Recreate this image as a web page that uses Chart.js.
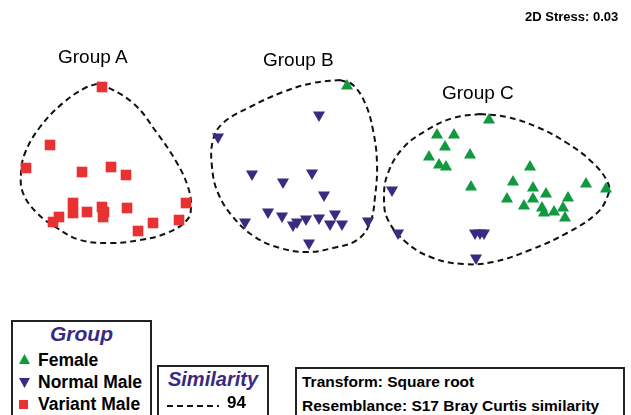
<html>
<head>
<meta charset="UTF-8">
<script src="https://cdn.jsdelivr.net/npm/chart.js"></script>
<style>
  body { margin: 0; background: #fff; font-family: Arial, "Liberation Sans", sans-serif; }
  #wrap { position: relative; width: 631px; height: 415px; overflow: hidden; }
  #plot { position: absolute; left: 0; top: 0; }
  .lbl { position: absolute; white-space: nowrap; color: #000; }
  .box { position: absolute; border: 2px solid #222; background: #fff; }
  .ttl { font-style: italic; font-weight: bold; color: #362a86; text-align: center; }
  .row { position: relative; font-weight: bold; font-size: 17.5px; line-height: 22px; padding-left: 25px; }
  .mk { position: absolute; left: 6px; }
  .tri-up { width: 11px; height: 10px; top: 5px; background: #109a40; clip-path: polygon(50% 0, 100% 100%, 0 100%); }
  .tri-dn { width: 11px; height: 10px; top: 7px; background: #3b2a80; clip-path: polygon(0 0, 100% 0, 50% 100%); }
  .sq { width: 9px; height: 9px; top: 7px; background: #e83232; }
</style>
</head>
<body>
<div id="wrap">
  <canvas id="plot" width="631" height="415"></canvas>

  <div class="lbl" style="left:58px;top:47px;font-size:19px;line-height:19px;">Group A</div>
  <div class="lbl" style="left:263px;top:50px;font-size:19px;line-height:19px;">Group B</div>
  <div class="lbl" style="left:442px;top:83px;font-size:19px;line-height:19px;">Group C</div>
  <div class="lbl" style="left:525px;top:9px;font-size:13px;line-height:15px;font-weight:bold;">2D Stress: 0.03</div>

  <div class="box" style="left:11px;top:320px;width:137px;height:110px;">
    <div class="ttl" style="font-size:21px;line-height:24px;">Group</div>
    <div class="row" style="margin-top:3px;"><span class="mk tri-up"></span>Female</div>
    <div class="row"><span class="mk tri-dn"></span>Normal Male</div>
    <div class="row"><span class="mk sq"></span>Variant Male</div>
  </div>

  <div class="box" style="left:157px;top:365px;width:108px;height:70px;">
    <div class="ttl" style="font-size:20px;line-height:24px;">Similarity</div>
    <svg style="position:absolute;left:8px;top:36px;" width="54" height="6">
      <line x1="0" y1="3" x2="52" y2="3" stroke="#111" stroke-width="2" stroke-dasharray="6 4"/>
    </svg>
    <div class="lbl" style="left:68px;top:25px;font-size:17px;line-height:22px;font-weight:bold;">94</div>
  </div>

  <div class="box" style="left:295px;top:367px;width:326px;height:70px;">
    <div style="font-weight:bold;font-size:15.5px;line-height:24px;padding-left:5px;margin-top:1px;">Transform: Square root<br>Resemblance: S17 Bray Curtis similarity</div>
  </div>
</div>

<script>
// NMDS coordinates
const femaleX = [0.32, 1.74, 1.22, 1.39, 1.30, 1.14, 1.55, 1.24, 1.31, 2.15, 1.98, 1.56, 2.18, 2.71, 2.91, 2.31, 1.92, 2.18, 2.53, 2.09, 2.27, 2.48, 2.29, 2.39, 2.50];
const femaleY = [1.44, 1.10, 0.95, 0.95, 0.83, 0.73, 0.75, 0.65, 0.63, 0.63, 0.48, 0.43, 0.42, 0.46, 0.41, 0.36, 0.31, 0.31, 0.32, 0.24, 0.22, 0.22, 0.17, 0.18, 0.12];

const normalX = [0.04, -0.97, -0.63, -0.32, -0.03, 0.09, -0.47, -0.33, -0.70, -0.18, -0.22, -0.09, 0.04, 0.20, 0.15, 0.27, 0.53, -0.06, 0.77, 0.83, 1.60, 1.65, 1.69, 1.61];
const normalY = [1.15, 0.93, 0.56, 0.48, 0.57, 0.35, 0.18, 0.14, 0.08, 0.08, 0.05, 0.11, 0.12, 0.16, 0.06, 0.06, 0.09, -0.13, 0.40, -0.03, -0.03, -0.03, -0.03, -0.28];

const variantX = [-2.13, -2.65, -2.89, -2.33, -2.04, -1.89, -2.42, -2.42, -2.56, -2.62, -2.28, -2.13, -2.11, -2.12, -1.88, -1.77, -1.62, -1.36, -1.29];
const variantY = [1.43, 0.85, 0.62, 0.58, 0.63, 0.55, 0.27, 0.17, 0.13, 0.08, 0.18, 0.23, 0.18, 0.13, 0.22, -0.01, 0.07, 0.10, 0.27];

// 94% similarity contours
const hullAX = [-2.15, -1.82, -1.58, -1.38, -1.27, -1.24, -1.28, -1.48, -1.75, -2.05, -2.35, -2.58, -2.78, -2.92, -2.94, -2.90, -2.75, -2.52, -2.30, -2.15];
const hullAY = [1.47, 1.27, 0.97, 0.67, 0.43, 0.23, 0.10, -0.03, -0.10, -0.13, -0.10, 0.02, 0.17, 0.37, 0.57, 0.77, 1.03, 1.27, 1.42, 1.47];
const hullBX = [0.25, 0.38, 0.50, 0.58, 0.62, 0.60, 0.55, 0.42, 0.18, -0.08, -0.35, -0.60, -0.82, -0.97, -1.03, -1.02, -0.92, -0.65, -0.32, -0.02, 0.25];
const hullBY = [1.50, 1.45, 1.27, 1.00, 0.67, 0.33, 0.07, -0.10, -0.18, -0.22, -0.18, -0.07, 0.13, 0.37, 0.63, 0.90, 1.07, 1.23, 1.38, 1.47, 1.50];
const hullCX = [1.65, 1.92, 2.22, 2.52, 2.78, 2.93, 2.93, 2.82, 2.52, 2.15, 1.78, 1.48, 1.18, 0.92, 0.73, 0.69, 0.73, 0.88, 1.12, 1.38, 1.65];
const hullCY = [1.16, 1.13, 1.03, 0.87, 0.67, 0.47, 0.35, 0.17, -0.03, -0.20, -0.32, -0.34, -0.28, -0.13, 0.10, 0.33, 0.57, 0.82, 1.00, 1.12, 1.16];

function pts(xs, ys) {
  return xs.map((x, i) => ({ x: x, y: ys[i] }));
}

function hull(xs, ys) {
  return {
    data: pts(xs, ys),
    showLine: true,
    tension: 0.4,
    borderColor: '#111',
    borderWidth: 2,
    borderDash: [6, 4],
    pointRadius: 0,
    fill: false
  };
}

const ctx = document.getElementById('plot');

new Chart(ctx, {
  type: 'scatter',
  data: {
    datasets: [
      { label: 'Female', data: pts(femaleX, femaleY), pointStyle: 'triangle', pointRadius: 7, backgroundColor: '#109a40', borderWidth: 0 },
      { label: 'Normal Male', data: pts(normalX, normalY), pointStyle: 'triangle', rotation: 180, pointRadius: 7, backgroundColor: '#3b2a80', borderWidth: 0 },
      { label: 'Variant Male', data: pts(variantX, variantY), pointStyle: 'rect', pointRadius: 7.5, backgroundColor: '#e83232', borderWidth: 0 },
      hull(hullAX, hullAY),
      hull(hullBX, hullBY),
      hull(hullCX, hullCY)
    ]
  },
  options: {
    responsive: false,
    animation: false,
    clip: false,
    layout: { padding: 0, autoPadding: false },
    scales: {
      x: { type: 'linear', min: -3.15, max: 3.16, display: false },
      y: { type: 'linear', min: -1.85, max: 2.30, display: false }
    },
    plugins: {
      legend: { display: false },
      tooltip: { enabled: false }
    }
  }
});
</script>
</body>
</html>
